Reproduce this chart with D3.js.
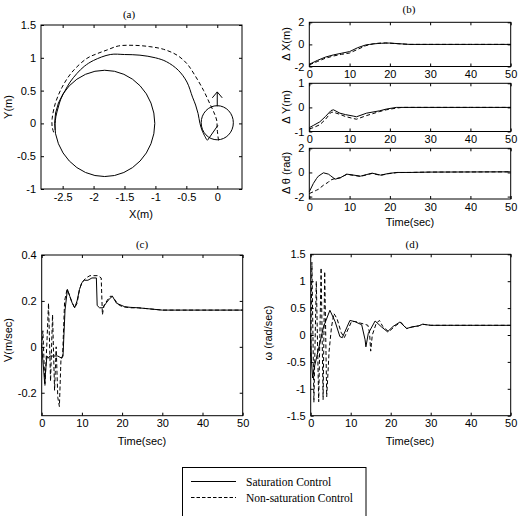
<!DOCTYPE html>
<html>
<head>
<meta charset="utf-8">
<script src="https://cdn.jsdelivr.net/npm/d3@7"></script>
<style>
  body { margin: 0; background: #fff; }
  svg { display: block; }
</style>
</head>
<body>
<div id="chart"></div>
<script>
// ---- (a) trajectories in the plane ----
const satPathX = [-0.17, -0.24, -0.28, -0.31, -0.35, -0.40, -0.49, -0.63, -0.82, -1.0, -1.25, -1.5, -1.73, -2.0, -2.15, -2.27, -2.38, -2.46, -2.53, -2.57, -2.61, -2.62, -2.62];
const satPathY = [-0.25, -0.12, 0.0, 0.15, 0.28, 0.40, 0.63, 0.81, 0.94, 1.0, 1.04, 1.05, 1.05, 0.96, 0.87, 0.76, 0.63, 0.50, 0.37, 0.25, 0.1, 0.0, -0.1];
const nonPathX = [0.02, 0.0, -0.01, -0.06, -0.12, -0.22, -0.36, -0.49, -0.65, -0.87, -1.09, -1.35, -1.6, -1.78, -1.95, -2.11, -2.35, -2.51, -2.62, -2.67, -2.67, -2.64];
const nonPathY = [-0.26, -0.1, 0.05, 0.18, 0.30, 0.50, 0.73, 0.91, 1.04, 1.13, 1.17, 1.19, 1.18, 1.12, 1.06, 0.99, 0.78, 0.55, 0.30, 0.07, -0.05, -0.15];
const circleCenters = [[-1.82, 0.0], [0.0, 0.01]];
const circleRadii = [0.81, 0.26];
const arrowX = [0, 0], arrowY = [0.26, 0.48];
const arrowHeadX = [-0.08, 0, 0.08], arrowHeadY = [0.39, 0.48, 0.39];
const headingX = [-0.16, 0.01], headingY = [-0.26, -0.03];

// ---- (b) errors vs time ----
const dxTime = [0, 2, 4, 6, 8, 10, 12, 14, 15, 16, 17, 18, 19, 20, 22, 24, 25, 30, 40, 50];
const dxSat = [-1.8, -1.45, -1.15, -0.95, -0.8, -0.65, -0.3, -0.05, 0.0, 0.05, 0.08, 0.1, 0.12, 0.12, 0.07, 0.02, 0.0, 0.0, 0.0, 0.0];
const dxNon = [-1.85, -1.55, -1.25, -1.05, -0.9, -0.78, -0.45, -0.12, -0.02, 0.06, 0.1, 0.13, 0.13, 0.11, 0.06, 0.02, 0.0, 0.0, 0.0, 0.0];
const dyTime = [0, 1, 2.6, 4, 5.4, 6, 7.6, 9, 10.9, 11.7, 14.2, 17.5, 19.1, 21.6, 23, 30, 40, 50];
const dySat = [-0.84, -0.75, -0.6, -0.38, -0.13, -0.1, -0.24, -0.3, -0.36, -0.39, -0.24, -0.14, -0.07, 0.0, 0.0, 0.0, 0.0, 0.0];
const dyNon = [-0.89, -0.84, -0.72, -0.5, -0.2, -0.2, -0.29, -0.38, -0.46, -0.49, -0.34, -0.17, -0.1, -0.03, 0.0, 0.0, 0.0, 0.0];
const dthTime = [0, 1, 1.8, 2.25, 3.5, 4.75, 5.2, 6.4, 7.7, 9.3, 11, 12.7, 14.3, 15.6, 17.7, 19.75, 21.8, 25, 30, 40, 50];
const dthSat = [-1.6, -0.92, -0.5, -0.31, -0.03, -0.14, -0.25, -0.56, -0.44, -0.14, -0.22, -0.31, -0.17, -0.06, -0.22, -0.08, 0.0, 0.0, 0.03, 0.04, 0.05];
const dthNon = [-1.75, -1.6, -1.47, -1.4, -1.06, -0.8, -0.64, -0.5, -0.44, -0.16, -0.24, -0.33, -0.19, -0.08, -0.24, -0.1, -0.01, 0.0, 0.03, 0.04, 0.05];

// ---- (c) linear velocity ----
const vSatTime = [0, 0.3, 0.75, 1.0, 1.3, 1.6, 2, 3, 4, 5, 5.3, 5.8, 6.4, 7, 7.6, 8.2, 8.8, 9.4, 10, 10.6, 11.5, 12.5, 13.6, 13.8, 14.4, 15.2, 16, 16.9, 17.6, 18.6, 20.6, 22, 24, 27, 30, 35, 40, 45, 50];
const vSat = [0.0, -0.06, -0.16, -0.1, -0.04, -0.05, -0.04, -0.04, -0.04, -0.05, -0.04, 0.16, 0.25, 0.22, 0.19, 0.17, 0.2, 0.25, 0.28, 0.29, 0.29, 0.3, 0.3, 0.18, 0.17, 0.17, 0.19, 0.21, 0.22, 0.19, 0.175, 0.172, 0.17, 0.165, 0.16, 0.16, 0.16, 0.16, 0.16];
const vNonTime = [0, 0.3, 0.8, 1.3, 1.7, 2.2, 2.7, 3.2, 3.6, 4.0, 4.4, 4.8, 5.2, 5.7, 6.3, 6.8, 7.4, 8.2, 8.8, 9.4, 10, 11, 12, 13, 14, 14.8, 15.1, 15.5, 16.2, 17, 17.6, 18.4, 19, 20, 22, 24, 27, 30, 35, 40, 45, 50];
const vNon = [0.0, 0.07, -0.17, 0.02, 0.19, -0.15, 0.14, -0.19, 0.0, -0.22, -0.26, -0.05, -0.04, 0.2, 0.25, 0.23, 0.2, 0.17, 0.19, 0.25, 0.28, 0.3, 0.31, 0.31, 0.31, 0.3, 0.14, 0.18, 0.2, 0.22, 0.22, 0.2, 0.185, 0.175, 0.17, 0.17, 0.165, 0.16, 0.16, 0.16, 0.16, 0.16];

// ---- (d) angular velocity ----
const wSatTime = [0, 0.2, 0.5, 0.9, 1.9, 3.2, 4.8, 6.1, 7.3, 7.9, 9.8, 11, 12.75, 13.6, 13.8, 14.4, 16.1, 17.7, 19.2, 20.6, 22.3, 24, 25.25, 27, 28, 30, 35, 40, 45, 50];
const wSat = [0.0, -0.5, -0.8, -0.6, -0.28, 0.15, 0.46, 0.25, -0.03, -0.05, 0.27, 0.25, 0.19, -0.09, -0.22, 0.03, 0.26, 0.15, 0.06, 0.16, 0.24, 0.12, 0.15, 0.17, 0.2, 0.18, 0.18, 0.18, 0.18, 0.18];
const wNonTime = [0, 0.3, 0.8, 1.4, 2.0, 2.6, 3.1, 3.5, 4.0, 4.6, 5.2, 5.8, 6.6, 7.6, 8.4, 10.2, 11.2, 12.5, 13.5, 14.3, 14.7, 15.0, 15.4, 16.4, 17.2, 18, 19.5, 21, 22.5, 24, 25.5, 27, 28, 30, 35, 40, 45, 50];
const wNon = [-0.4, 1.35, -1.25, 1.0, -1.24, 1.25, -1.2, 1.18, -1.15, -0.3, 0.15, 0.4, 0.3, 0.05, -0.05, 0.25, 0.25, 0.22, 0.2, 0.18, 0.05, -0.3, 0.0, 0.22, 0.27, 0.16, 0.06, 0.16, 0.24, 0.12, 0.15, 0.17, 0.2, 0.18, 0.18, 0.18, 0.18, 0.18];

// ticks
const aXTicks = [-2.5, -2, -1.5, -1, -0.5, 0];
const aYTicks = [-1, -0.5, 0, 0.5, 1, 1.5];
const timeTicks = [0, 10, 20, 30, 40, 50];
const bYTicks2 = [-2, 0, 2];
const bYTicks1 = [-1, 0, 1];
const cYTicks = [-0.2, 0, 0.2, 0.4];
const dYTicks = [-1.5, -1, -0.5, 0, 0.5, 1, 1.5];

const legendLabels = ["Saturation Control", "Non-saturation Control"];

const W = 520, H = 516;
const SANS = "'Liberation Sans', Arial, sans-serif";
const SERIF = "'Liberation Serif', 'Times New Roman', serif";
const DASH = "4,2.5";

const svg = d3.select("#chart").append("svg")
    .attr("width", W)
    .attr("height", H)
    .attr("viewBox", [0, 0, W, H]);

const fmt = d => String(d);

function makePanel(box, xDomain, yDomain, xTicks, yTicks) {
    const x = d3.scaleLinear(xDomain, [box.left, box.right]);
    const y = d3.scaleLinear(yDomain, [box.bottom, box.top]);
    const g = svg.append("g");

    const style = a => a.call(s => s.select(".domain").remove())
        .call(s => s.selectAll("text").attr("font-family", SANS).attr("font-size", 11).attr("fill", "#000"))
        .call(s => s.selectAll("line").attr("stroke", "#000"));

    // matlab style: inward ticks on all four sides
    g.append("g").attr("transform", `translate(0,${box.bottom})`)
        .call(d3.axisBottom(x).tickValues(xTicks).tickSizeInner(-3).tickSizeOuter(0).tickPadding(4).tickFormat(fmt))
        .call(style);
    g.append("g").attr("transform", `translate(0,${box.top})`)
        .call(d3.axisTop(x).tickValues(xTicks).tickSizeInner(-3).tickSizeOuter(0).tickFormat(""))
        .call(style);
    g.append("g").attr("transform", `translate(${box.left},0)`)
        .call(d3.axisLeft(y).tickValues(yTicks).tickSizeInner(-3).tickSizeOuter(0).tickPadding(5).tickFormat(fmt))
        .call(style);
    g.append("g").attr("transform", `translate(${box.right},0)`)
        .call(d3.axisRight(y).tickValues(yTicks).tickSizeInner(-3).tickSizeOuter(0).tickFormat(""))
        .call(style);

    g.append("rect")
        .attr("x", box.left).attr("y", box.top)
        .attr("width", box.right - box.left).attr("height", box.bottom - box.top)
        .attr("fill", "none").attr("stroke", "#000").attr("stroke-width", 1);

    return { g, x, y };
}

function drawSeries(p, xs, ys, dashed, curve = d3.curveLinear) {
    const line = d3.line().x(d => p.x(d[0])).y(d => p.y(d[1])).curve(curve);
    p.g.append("path")
        .datum(d3.zip(xs, ys))
        .attr("d", line)
        .attr("fill", "none")
        .attr("stroke", "#000")
        .attr("stroke-width", 1)
        .attr("stroke-dasharray", dashed ? DASH : null);
}

function title(text, x, y) {
    svg.append("text").attr("x", x).attr("y", y)
        .attr("text-anchor", "middle")
        .attr("font-family", SERIF).attr("font-size", 11)
        .text(text);
}

function axisLabel(text, x, y, rotate = false) {
    svg.append("text")
        .attr("transform", `translate(${x},${y})${rotate ? " rotate(-90)" : ""}`)
        .attr("text-anchor", "middle")
        .attr("dy", "0.35em")
        .attr("font-family", SANS).attr("font-size", 11)
        .text(text);
}

// ---- panel (a) ----
const pa = makePanel({left: 41, right: 242, top: 25, bottom: 189}, [-2.85, 0.4], [-1, 1.5], aXTicks, aYTicks);
circleCenters.forEach(([cx, cy], i) => {
    pa.g.append("ellipse")
        .attr("cx", pa.x(cx)).attr("cy", pa.y(cy))
        .attr("rx", pa.x(cx + circleRadii[i]) - pa.x(cx))
        .attr("ry", pa.y(cy) - pa.y(cy + circleRadii[i]))
        .attr("fill", "none").attr("stroke", "#000").attr("stroke-width", 1);
});
drawSeries(pa, satPathX, satPathY, false, d3.curveCatmullRom);
drawSeries(pa, nonPathX, nonPathY, true, d3.curveCatmullRom);
drawSeries(pa, arrowX, arrowY, false);
drawSeries(pa, arrowHeadX, arrowHeadY, false);
drawSeries(pa, headingX, headingY, false);
title("(a)", 129, 18);
axisLabel("X(m)", 141, 214);
axisLabel("Y(m)", 8, 107, true);

// ---- panel (b) ----
const bx = {left: 309.3, right: 510.7};
const pb1 = makePanel({...bx, top: 22.3, bottom: 66.5}, [0, 50], [-2, 2], timeTicks, bYTicks2);
drawSeries(pb1, dxTime, dxSat, false);
drawSeries(pb1, dxTime, dxNon, true);
const pb2 = makePanel({...bx, top: 83.3, bottom: 131.5}, [0, 50], [-1, 1], timeTicks, bYTicks1);
drawSeries(pb2, dyTime, dySat, false);
drawSeries(pb2, dyTime, dyNon, true);
const pb3 = makePanel({...bx, top: 148.3, bottom: 199}, [0, 50], [-2.2, 2], timeTicks, bYTicks2);
drawSeries(pb3, dthTime, dthSat, false);
drawSeries(pb3, dthTime, dthNon, true);
title("(b)", 409, 13);
axisLabel("Δ X(m)", 286, 44, true);
axisLabel("Δ Y(m)", 286, 107, true);
axisLabel("Δ θ (rad)", 286, 173, true);
axisLabel("Time(sec)", 410, 222);

// ---- panel (c) ----
const pc = makePanel({left: 41.7, right: 242.7, top: 255, bottom: 415.7}, [0, 50], [-0.3, 0.4], timeTicks, cYTicks);
drawSeries(pc, vSatTime, vSat, false);
drawSeries(pc, vNonTime, vNon, true);
title("(c)", 142, 248);
axisLabel("Time(sec)", 142, 441);
axisLabel("V(m/sec)", 8, 340, true);

// ---- panel (d) ----
const pd = makePanel({left: 310.7, right: 510.7, top: 254.3, bottom: 415.7}, [0, 50], [-1.5, 1.5], timeTicks, dYTicks);
drawSeries(pd, wSatTime, wSat, false);
drawSeries(pd, wNonTime, wNon, true);
title("(d)", 412, 248);
axisLabel("Time(sec)", 410, 441);
axisLabel("ω (rad/sec)", 268, 333, true);

// ---- legend ----
const legend = svg.append("g");
legend.append("rect")
    .attr("x", 182.5).attr("y", 467.5).attr("width", 183.5).attr("height", 70)
    .attr("fill", "none").attr("stroke", "#000").attr("stroke-width", 1);
legendLabels.forEach((label, i) => {
    const ly = 481.5 + i * 16;
    legend.append("line")
        .attr("x1", 191).attr("x2", 236).attr("y1", ly).attr("y2", ly)
        .attr("stroke", "#000").attr("stroke-width", 1)
        .attr("stroke-dasharray", i === 1 ? "3.5,2" : null);
    legend.append("text")
        .attr("x", 246).attr("y", ly).attr("dy", "0.35em")
        .attr("font-family", SERIF).attr("font-size", 11.5)
        .text(label);
});
</script>
</body>
</html>
